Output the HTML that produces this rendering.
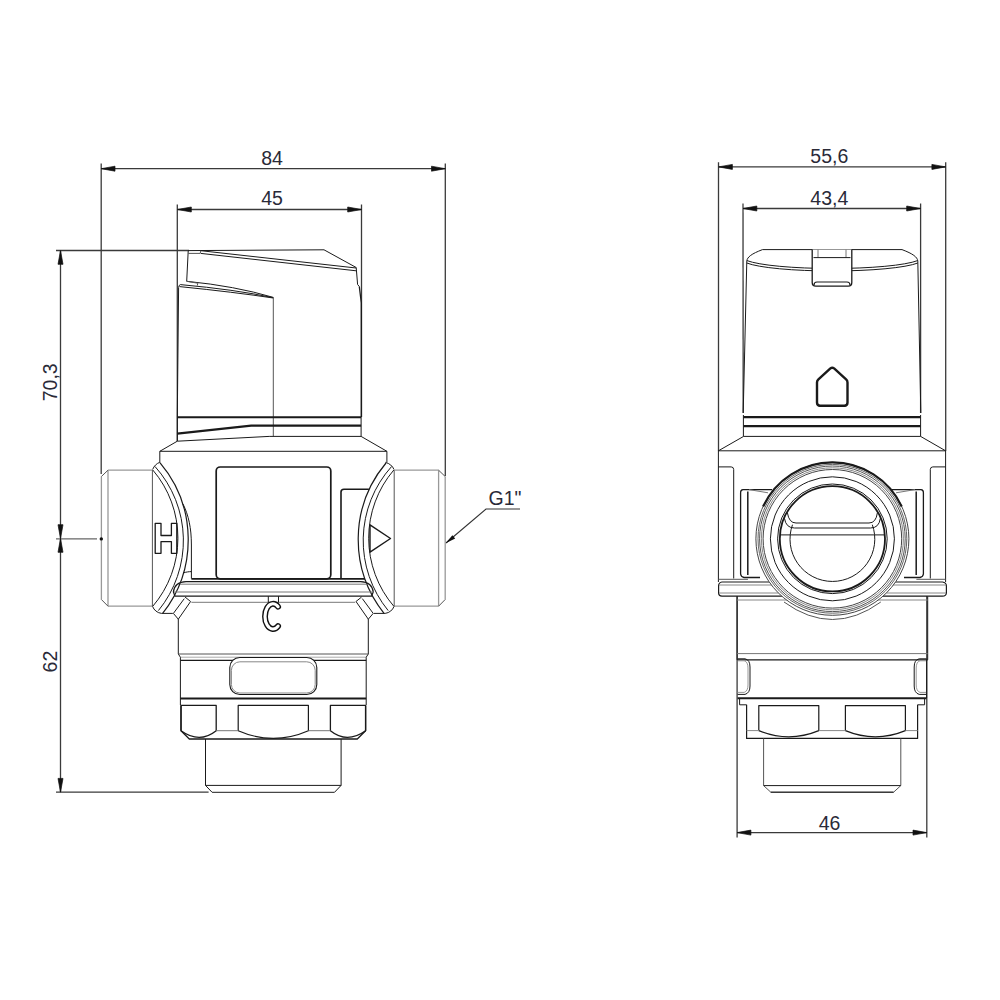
<!DOCTYPE html>
<html><head><meta charset="utf-8">
<style>
html,body{margin:0;padding:0;background:#fff;}
svg{display:block;}
text{font-family:"Liberation Sans",sans-serif;fill:#2a2a38;}
</style></head>
<body>
<svg width="1000" height="1000" viewBox="0 0 1000 1000">
<rect width="1000" height="1000" fill="#fff"/>
<!-- ============ LEFT VIEW: DIMENSIONS ============ -->
<g id="dimL" stroke="#3a3a3a" stroke-width="1.3" fill="none">
  <line x1="101" y1="168.7" x2="445.3" y2="168.7"/>
  <line x1="101.2" y1="163.5" x2="101.2" y2="474"/>
  <line x1="445.3" y1="163.5" x2="445.3" y2="476"/>
  <line x1="177.5" y1="209.5" x2="361.5" y2="209.5"/>
  <line x1="177.3" y1="204.5" x2="177.3" y2="441"/>
  <line x1="361.5" y1="204.5" x2="361.5" y2="417"/>
  <line x1="60.5" y1="250.5" x2="60.5" y2="792"/>
  <line x1="56" y1="250.5" x2="189" y2="250.5"/>
  <line x1="56" y1="538.9" x2="97" y2="538.9" stroke="#666"/>
  <line x1="56" y1="792.2" x2="208.6" y2="792.2"/>
</g>
<g id="arrL" fill="#111" stroke="#111" stroke-width="0.7" stroke-linejoin="round">
  <polygon points="101.2,168.7 115,166.2 115,171.2"/>
  <polygon points="445.3,168.7 431.5,166.2 431.5,171.2"/>
  <polygon points="177.5,209.5 191.3,207 191.3,212"/>
  <polygon points="361.5,209.5 347.7,207 347.7,212"/>
  <polygon points="60.5,250.5 58,264.3 63,264.3"/>
  <polygon points="60.5,538.5 58,524.7 63,524.7"/>
  <polygon points="60.5,538.5 58,552.3 63,552.3"/>
  <polygon points="60.5,792.2 58,778.4 63,778.4"/>
</g>
<g font-size="19.5">
  <text x="272" y="164.8" text-anchor="middle">84</text>
  <text x="272" y="205" text-anchor="middle">45</text>
  <text transform="translate(56.8,382.3) rotate(-90)" text-anchor="middle">70,3</text>
  <text transform="translate(57,661.6) rotate(-90)" text-anchor="middle">62</text>
  <text x="488.5" y="505.3">G1"</text>
</g>
<!-- G1 leader -->
<g stroke="#333" stroke-width="1.1" fill="none">
  <polyline points="446,543 486,509 520,509"/>
</g>
<polygon points="445.6,543.2 452.4,535.3 455.2,538.6" fill="#111"/>

<!-- ============ LEFT VIEW: BODY ============ -->
<g id="bodyL" stroke="#1a1a1a" stroke-width="1" fill="none" stroke-linejoin="round">
  <!-- knob cap -->
  <path d="M188.2,250.6 L324,249.8 L356.2,267.5 L357.6,284.5 L359.3,286.5"/>
  <path d="M359.3,286.5 L361.3,303 L361.3,417" stroke-width="1.3"/>
  <path d="M188.2,251 L186.7,281.3"/>
  <path d="M188.2,253.4 L200.2,253.4 L200.8,250.6" stroke="#555"/>
  <path d="M200.8,250.7 L356.2,268"/>
  <path d="M200.8,253.4 L356.2,270.8"/>
  <!-- knob body -->
  <path d="M186.7,281.3 Q235,286 273.3,297.4"/>
  <path d="M186.7,281.3 L197.8,283.2 L197.3,285.6" stroke="#555"/>
  <path d="M180.4,284.6 Q235,289.5 273.3,297.7"/>
  <path d="M179.6,286.6 Q235,292.2 273.3,298"/>
  <path d="M180.4,284.6 Q178.8,285 178.6,287.5 L177.3,417"/>
  <line x1="273.3" y1="297.4" x2="273.3" y2="436.4" stroke="#555"/>
  <line x1="177.3" y1="417.2" x2="361.1" y2="417.2" stroke-width="2"/>
  <path d="M177.3,433.6 L251.2,425.6 L361.1,425.6" stroke-width="2.1"/>
  <path d="M177.3,441.2 L269.2,436.4 L361.1,436.4"/>
  <path d="M177.3,417 L177.3,441.2 L159.8,451.3 L386.9,451.3 L361.1,436.4 L361.1,417"/>
  <line x1="159.8" y1="451.3" x2="159.8" y2="462.3"/>
  <line x1="386.9" y1="451.3" x2="386.9" y2="462.3"/>

  <!-- ports -->
  <g stroke="#999" stroke-width="1.3">
  <path d="M152.2,470.2 L108,470.2 M101.4,476.5 L101.4,599.5 M108,606.2 L152.2,606.2"/>
  <line x1="108" y1="470.2" x2="108" y2="606.2"/>
  <path d="M394.4,470.2 L438.6,470.2 M445.2,476.5 L445.2,599.5 M438.6,606.2 L394.4,606.2"/>
  <line x1="438.6" y1="470.2" x2="438.6" y2="606.2"/>
  </g>
  <path d="M101.4,476.5 L108,470.2 M101.4,599.5 L108,606.2 M445.2,476.5 L438.6,470.2 M445.2,599.5 L438.6,606.2" stroke="#555"/>
  <line x1="152.4" y1="470.2" x2="152.4" y2="606.2" stroke="#555"/>
  <line x1="394.2" y1="470.2" x2="394.2" y2="606.2" stroke="#555"/>

  <!-- left arcs -->
  <path d="M152.6,469.5 C154,466 156.5,463.5 159.8,462.3"/>
  <path d="M152.8,470 A105,105 0 0 1 152.6,606.5"/>
  <path d="M155,466.5 A110.7,110.7 0 0 1 158.4,610.6"/>
  <path d="M159.9,462.6 A119,119 0 0 1 162.6,613.4" stroke-width="1.2"/>
  <path d="M183,504 C188.5,515 191.4,528 191.4,545 L191.4,578.6"/>
  <path d="M183,573 C186,572 189,571.6 191.4,571.6"/>
  <path d="M152.6,606.5 C154,610 157,612.8 161.4,613.4 L172.8,613.4"/>
  <!-- right arcs (mirror about 273.3) -->
  <path d="M394,469.5 C392.6,466 389.6,463.5 385.4,462.3"/>
  <path d="M393.8,470 A105,105 0 0 0 394,606.5"/>
  <path d="M391.6,466.5 A110.7,110.7 0 0 0 388.2,610.6"/>
  <path d="M386,463 A119,119 0 0 0 384,613.4" stroke-width="1.2"/>
  <path d="M394,606.5 C392.6,610 389.6,612.8 385.2,613.4 L373.8,613.4"/>

  <!-- windows -->
  <rect x="216.2" y="467" width="114.6" height="111.8" rx="4" stroke-width="1.7"/>
  <path d="M341,578.5 L341,492 Q341,489.3 344,489.3 L368.9,489.3" stroke-width="1.6"/>
      <line x1="191.4" y1="578.8" x2="365" y2="578.8" stroke-width="1.8"/>

  <!-- H -->
  <path d="M155.2,523.3 H161 V535.5 H171.4 V523.3 H176.8 V553.3 H171.4 V541.6 H161 V553.3 H155.2 Z" stroke-width="1.3"/>
  <!-- triangle -->
  <path d="M370,524.8 L390.5,538.5 L370,552.2 Z" stroke-width="1.4"/>

  <!-- flange -->
  <path d="M186,581.6 L360.6,581.6 C368,582 372.6,586 373.2,592 L371.6,596.2 L175,596.2 L173.4,592 C174,586 178.6,582 186,581.6 Z" stroke-width="1.2"/>
  <line x1="180" y1="584.2" x2="366.6" y2="584.2" stroke="#777"/>
  <line x1="174" y1="592" x2="372.6" y2="592" stroke="#777"/>
  <line x1="191.4" y1="602.3" x2="355.2" y2="602.3" stroke="#777"/>
  <!-- shoulders -->
  <path d="M185,597 L190.6,601.5 L178.3,619.2 L173.4,613.4 L184.3,598.6"/>
  <path d="M361.6,597 L356,601.5 L368.3,619.2 L373.2,613.4 L362.3,598.6"/>
  <!-- C stem -->
  <line x1="268.3" y1="596.2" x2="268.3" y2="602.5"/>
  <line x1="278.5" y1="596.2" x2="278.5" y2="602.5"/>

  <!-- neck -->
  <line x1="178.3" y1="619" x2="178.3" y2="654"/>
  <line x1="368.3" y1="619" x2="368.3" y2="654"/>
  <path d="M178.3,654 L180.4,657.2 M368.3,654 L366.2,657.2"/>
  <line x1="178.3" y1="654" x2="368.3" y2="654" stroke="#555" stroke-width="1.2"/>
  <line x1="180.4" y1="657.2" x2="366.2" y2="657.2" stroke="#aaa"/>
  <line x1="180.4" y1="660.3" x2="366.2" y2="660.3" stroke-width="1.2"/>
  <line x1="180.4" y1="657.2" x2="180.4" y2="705"/>
  <line x1="366.2" y1="657.2" x2="366.2" y2="705"/>
  <rect x="229.8" y="657.5" width="87" height="37" rx="10" fill="#fff" stroke-width="1.1"/>
  <rect x="231.4" y="661.8" width="83.8" height="31.2" rx="8.5" stroke="#888"/>
  <line x1="180.4" y1="698.4" x2="366.2" y2="698.4" stroke-width="2"/>

  <!-- hex nut -->
  <path d="M181,705.4 L181,730.7 L189.3,739 L357.3,739 L365.6,730.7 L365.6,705.4" stroke-width="1.3"/>
  <path d="M181,730.7 L181,705.4 L216.2,705.4 L216.2,730.7 Q199.6,744 181,730.7" stroke-width="1.3"/>
  <path d="M365.6,730.7 L365.6,705.4 L330.4,705.4 L330.4,730.7 Q347,744 365.6,730.7" stroke-width="1.3"/>
  <path d="M238.2,730.7 L238.2,705.4 L308.4,705.4 L308.4,730.7 Q273.3,746 238.2,730.7" stroke-width="1.2"/>
  <line x1="216.2" y1="730.7" x2="238.2" y2="730.7" stroke="#777"/>
  <line x1="308.4" y1="730.7" x2="330.4" y2="730.7" stroke="#777"/>

  <!-- pipe -->
  <path d="M205.5,739 L205.5,785.4 L212.1,792.3 L334.5,792.3 L341.1,785.4 L341.1,739"/>
  <line x1="205.5" y1="785.4" x2="341.1" y2="785.4"/>
</g>
<!-- ============ RIGHT VIEW: DIMENSIONS ============ -->
<g stroke="#3a3a3a" stroke-width="1.3" fill="none">
  <line x1="718.6" y1="166.9" x2="945.7" y2="166.9"/>
  <line x1="718.5" y1="162.3" x2="718.5" y2="451"/>
  <line x1="945.7" y1="162.3" x2="945.7" y2="451"/>
  <line x1="743" y1="208.5" x2="920.5" y2="208.5"/>
  <line x1="743" y1="203.5" x2="743.2" y2="413"/>
  <line x1="920.6" y1="203.5" x2="920.6" y2="413"/>
  <line x1="737.1" y1="832.6" x2="926.8" y2="832.6"/>
  <line x1="737.1" y1="596" x2="737.1" y2="837.5"/>
  <line x1="926.8" y1="596" x2="926.8" y2="837.5"/>
</g>
<g fill="#111" stroke="#111" stroke-width="0.7" stroke-linejoin="round">
  <polygon points="718.6,166.9 732.4,164.4 732.4,169.4"/>
  <polygon points="945.7,166.9 931.9,164.4 931.9,169.4"/>
  <polygon points="743,208.5 756.8,206 756.8,211"/>
  <polygon points="920.5,208.5 906.7,206 906.7,211"/>
  <polygon points="737.1,832.6 750.9,830.1 750.9,835.1"/>
  <polygon points="926.8,832.6 913,830.1 913,835.1"/>
</g>
<g font-size="19.5">
  <text x="829.3" y="163.3" text-anchor="middle">55,6</text>
  <text x="829.3" y="205.3" text-anchor="middle">43,4</text>
  <text x="829.6" y="829.7" text-anchor="middle">46</text>
</g>

<!-- ============ RIGHT VIEW: BODY ============ -->
<g id="bodyR" stroke="#1a1a1a" stroke-width="1" fill="none" stroke-linejoin="round">
  <!-- knob -->
  <path d="M746.8,261 C747.3,257 751.5,253.8 762.5,249.6 L902,249.6 C913,253.8 917.3,257 917.8,261"/>
  <path d="M747,260.6 A90,11.6 0 0 0 917.6,260.6"/>
  <path d="M746.8,263 A90,11.6 0 0 0 917.8,263"/>
  <path d="M746.8,261 L743.2,413"/>
  <path d="M917.8,261 L920.8,413"/>
  <!-- tab -->
  <path d="M812.2,249.6 L812.2,282.5 Q812.2,286.2 815.8,286.2 L848.2,286.2 Q851.8,286.2 851.8,282.5 L851.8,249.6" stroke-width="1.3" fill="#fff"/>
  <line x1="818" y1="249.6" x2="818" y2="257.5" stroke="#777"/>
  <line x1="846" y1="249.6" x2="846" y2="257.5" stroke="#777"/>
  <line x1="813.5" y1="257.6" x2="850.5" y2="257.6"/>
  <path d="M814,285 Q814,282 817,282 L847,282 Q850,282 850,285" stroke-width="1.2"/>
  <!-- house -->
  <path d="M817,402.6 L817,382.5 Q817,380.6 818.4,379.3 L830.4,368.4 Q832.25,366.9 834.1,368.4 L846.1,379.3 Q847.5,380.6 847.5,382.5 L847.5,402.6 Q847.5,405.8 844.3,405.8 L820.2,405.8 Q817,405.8 817,402.6 Z" stroke-width="2.4"/>
  <line x1="819" y1="405.9" x2="845.5" y2="405.9" stroke-width="1.6"/>
  <!-- bands -->
  <line x1="743.4" y1="417.2" x2="920.6" y2="417.2" stroke-width="2.2"/>
  <line x1="743.4" y1="426.2" x2="920.6" y2="426.2" stroke-width="2.2"/>
  <line x1="743.4" y1="415" x2="743.4" y2="436.4"/>
  <line x1="920.6" y1="415" x2="920.6" y2="436.4"/>
  <path d="M743.6,436.4 L920.6,436.4 L945.6,450.8 L718.4,450.8 Z"/>
  <!-- body sides & ears -->
  <line x1="718.4" y1="450.8" x2="718.4" y2="582"/>
  <line x1="945.6" y1="450.8" x2="945.6" y2="582"/>
  <path d="M718.4,466.9 L731.2,466.9 Q733.7,467 733.7,469.5 L733.7,578.5"/>
  <path d="M945.6,466.9 L932.8,466.9 Q930.3,467 930.3,469.5 L930.3,578.5"/>
  <!-- lugs -->
  <path d="M772,489.6 L743,489.6 Q740.6,489.8 740.6,492.5 L740.6,574 Q741,576.8 744,577.5 L760,577.5" stroke-width="1.3"/>
  <line x1="718.4" y1="579.3" x2="748" y2="579.3" stroke="#555"/>
  <line x1="747.8" y1="491.5" x2="747.8" y2="575" stroke-width="1.5"/>
  <path d="M892,489.6 L921,489.6 Q923.4,489.8 923.4,492.5 L923.4,574 Q923,576.8 920,577.5 L904,577.5" stroke-width="1.3"/>
  <line x1="916.4" y1="579.3" x2="945.6" y2="579.3" stroke="#555"/>
  <line x1="916.2" y1="491.5" x2="916.2" y2="575" stroke-width="1.5"/>
  <line x1="749" y1="489.6" x2="768" y2="492.8" stroke="#777"/>
  <line x1="915" y1="489.6" x2="896" y2="492.8" stroke="#777"/>
  <!-- flange -->
  <path d="M722,582 L942.5,582 Q946.4,582.5 946.4,586 L946.4,593 Q946,596.2 942.5,596.2 L722,596.2 Q718.6,596 718.6,593 L718.6,586 Q718.6,582.4 722,582 Z" stroke-width="1.2"/>
  <line x1="719" y1="585" x2="946" y2="585" stroke="#888"/>
  <line x1="719" y1="593" x2="946" y2="593" stroke="#888"/>
  <!-- lower body -->
  <path d="M737.1,596.5 L737.1,659.8"/>
  <path d="M927.7,596.5 L927.7,659.8"/>
  <line x1="737.1" y1="600" x2="927.7" y2="600" stroke="#888"/>
  <line x1="737.1" y1="653.6" x2="927.7" y2="653.6" stroke="#777"/>
  <line x1="737.1" y1="659.8" x2="927.7" y2="659.8" stroke-width="1.3"/>
  <path d="M737.6,658.8 L745,658.8 Q750,659.8 750,667 L750,686 Q750,693 745,694.4 L737.6,694.4"/>
  <path d="M737.6,660.8 L744.2,660.8 Q748,661.8 748,668 L748,685 Q748,691 744.2,692.4 L737.6,692.4" stroke="#999"/>
  <path d="M926.6,658.8 L919.2,658.8 Q914.2,659.8 914.2,667 L914.2,686 Q914.2,693 919.2,694.4 L926.6,694.4"/>
  <path d="M926.6,660.8 L920,660.8 Q916.2,661.8 916.2,668 L916.2,685 Q916.2,691 920,692.4 L926.6,692.4" stroke="#999"/>
  <line x1="926.6" y1="659.8" x2="926.6" y2="698"/>
  <line x1="737.6" y1="698.2" x2="926.6" y2="698.2" stroke-width="2"/>
  <path d="M739.6,698.2 L739.6,704.8 L746.6,704.8 M924.6,698.2 L924.6,704.8 L917.6,704.8"/>
  <!-- nut -->
  <path d="M746.6,704.8 L746.6,738.4 L917.6,738.4 L917.6,704.8" stroke-width="1.2"/>
  <path d="M758.8,730.6 L758.8,705.6 L818.8,705.6 L818.8,730.6 Q788.8,743 758.8,730.6" stroke-width="1.2"/>
  <path d="M845.4,730.6 L845.4,705.6 L905.4,705.6 L905.4,730.6 Q875.4,743 845.4,730.6" stroke-width="1.2"/>
  <line x1="746.6" y1="730.6" x2="758.8" y2="730.6" stroke="#888"/>
  <line x1="818.8" y1="730.6" x2="845.4" y2="730.6" stroke="#888"/>
  <line x1="905.4" y1="730.6" x2="917.6" y2="730.6" stroke="#888"/>
  <!-- pipe -->
  <path d="M763.6,738.4 L763.6,785.6 L770.8,792.2 L893.6,792.2 L900.8,785.6 L900.8,738.4" stroke="#555"/>
  <line x1="763.6" y1="785.6" x2="900.8" y2="785.6"/>
  <line x1="770.8" y1="792.2" x2="893.6" y2="792.2"/>
</g>
<!-- circles (port) -->
<g stroke="#1a1a1a" fill="#fff" stroke-width="1">
  <circle cx="832.4" cy="538.8" r="76.5" stroke="#444"/>
  <path d="M763.1,506.5 A76.5,76.5 0 0 1 901.7,506.5" fill="none" stroke-width="2.2"/>
  <path d="M784,602 Q832.4,637 880.8,602" fill="none" stroke="#555"/>
</g>
<g stroke="#1a1a1a" fill="none" stroke-width="1">
  <circle cx="832.4" cy="538.8" r="74.4" stroke="#666"/>
  <circle cx="832.4" cy="538.8" r="72.8" stroke="#555"/>
  <circle cx="832.4" cy="538.8" r="71" stroke="#888"/>
  <circle cx="832.4" cy="538.8" r="69.3" stroke="#444"/>
  <circle cx="832.4" cy="538.8" r="62"/>
  <circle cx="832.4" cy="538.8" r="54.8"/>
  <circle cx="832.4" cy="538.8" r="52.6" stroke-width="1.8"/>
  <!-- inner half moon -->
  <path d="M787.4,512.8 Q789,523 796,523 L869,523 Q876,523 877.4,512.8"/>
  <path d="M784.5,518.5 Q786,528 794.5,528 L870.5,528 Q879,528 880.3,518.5"/>
  <line x1="780.6" y1="534.9" x2="884.2" y2="534.9"/>
  <path d="M792.5,524.7 A42.4,42.4 0 1 0 872.3,524.7"/>
</g>

<circle cx="101.3" cy="538.9" r="1.7" fill="#111"/>
<!-- C letter outline -->
<path d="M278.1,606.7 A8,12.6 0 1 0 278.1,626.1" fill="none" stroke="#111" stroke-width="5.9" stroke-linecap="round"/>
<path d="M278.1,606.7 A8,12.6 0 1 0 278.1,626.1" fill="none" stroke="#fff" stroke-width="3.1" stroke-linecap="round"/>

</svg>
</body></html>
